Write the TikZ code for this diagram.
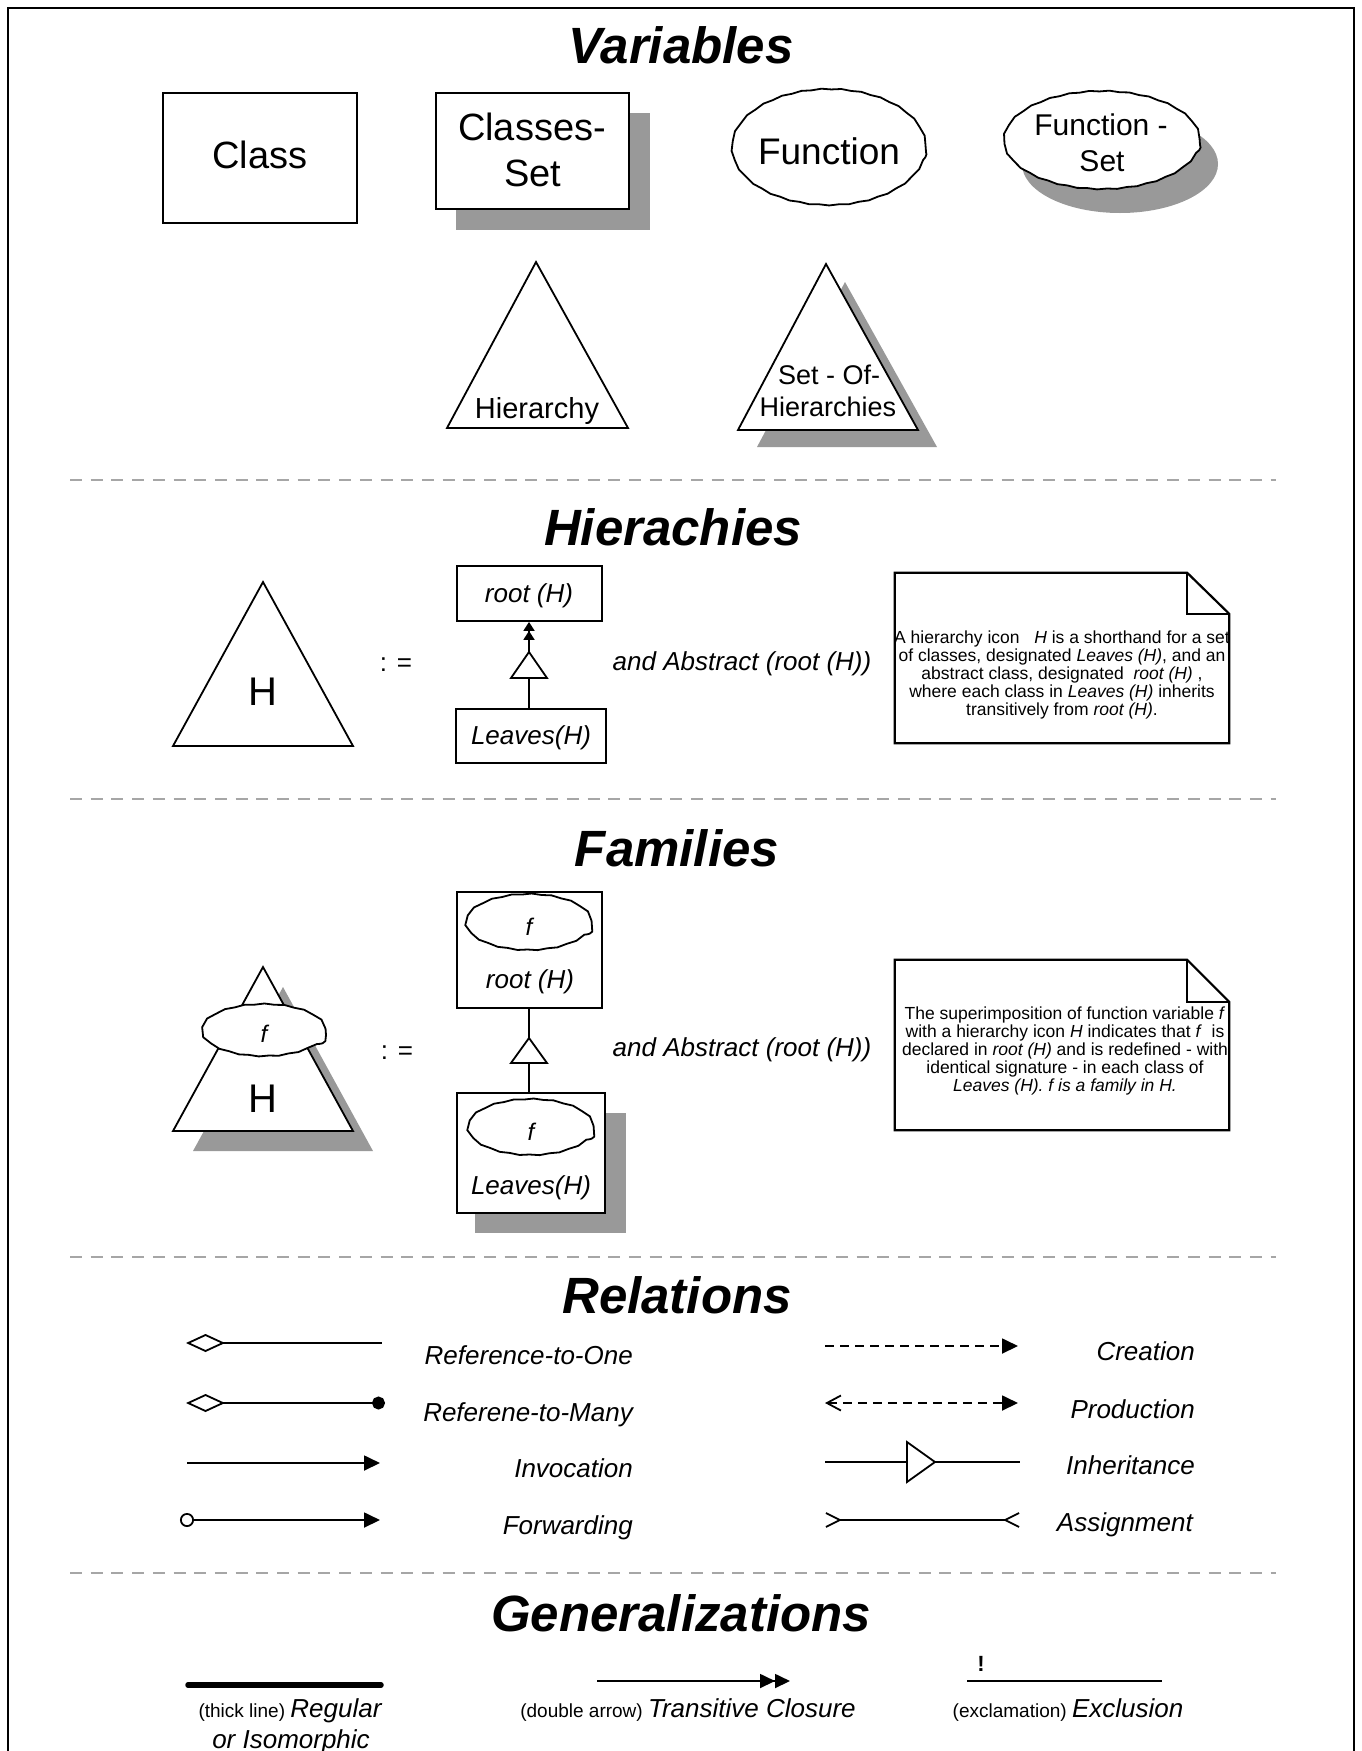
\documentclass[tikz,border=0pt]{standalone}
\usepackage{fontspec}
\setmainfont{Liberation Sans}
\usetikzlibrary{arrows.meta,calc,shapes.geometric,decorations.pathmorphing}
\newcommand\fsz[1]{\fontsize{#1}{#1}\selectfont}
\tikzset{
  pen/.style={line width=1.8pt},
  notepen/.style={line width=2.2pt, line join=miter},
  box/.style={pen, draw, fill=white, rectangle, inner sep=0pt},
  shadowbox/.style={fill=black!40, draw=none, rectangle, inner sep=0pt},
  wavy/.style={pen, draw, fill=white, ellipse, inner sep=0pt, decorate,
    decoration={snake, amplitude=0.45pt, segment length=20pt}},
  shadowoval/.style={fill=black!40, draw=none, ellipse, inner sep=0pt},
  heading/.style={font=\fsz{51}\bfseries\itshape, anchor=base, inner sep=0pt},
  lbl/.style={anchor=base, inner sep=0pt},
  rel/.style={font=\fsz{26}\itshape, anchor=base east, inner sep=0pt},
  notetext/.style={font=\fontsize{17.5}{18}\selectfont, align=center, inner sep=0pt},
  notebox/.style={inner sep=0pt, minimum width=334pt, minimum height=170pt},
  separator/.style={line width=2pt, black!35, dash pattern=on 12pt off 8.7pt},
  dashedline/.style={pen, dash pattern=on 9pt off 6pt},
  solidhead/.style={-{Triangle[length=16pt,width=15pt]}},
}
\begin{document}
\begin{tikzpicture}[x=1pt,y=-1pt]
\useasboundingbox (0,0) rectangle (1361,1751);
\clip (0,0) rectangle (1361,1751);
% frame
\draw[line width=2pt] (8,1770) |- (1354,8) -- (1354,1770);

% ---------------- Variables
\node[heading] (tvar) at (681,63) {Variables};
\node[box, minimum width=194pt, minimum height=130pt] (class) at (260,158) {};
\node[lbl, font=\fsz{38}] (classtxt) at (260,168) {Class};
\node[shadowbox, minimum width=194pt, minimum height=117pt] (csetsh) at (552.5,171.5) {};
\node[box, minimum width=193pt, minimum height=116pt] (cset) at (532.5,151) {};
\node[lbl, font=\fsz{38}] (csettxta) at (532,140) {Classes-};
\node[lbl, font=\fsz{38}] (csettxtb) at (533,186) {Set};
\node[wavy, minimum width=194pt, minimum height=116pt] (func) at (829,152) {};
\node[lbl, font=\fsz{37}] (functxt) at (829,164) {Function};
\node[shadowoval, minimum width=196pt, minimum height=98pt] (fsetsh) at (1120,164) {};
\node[wavy, minimum width=196pt, minimum height=98pt] (fset) at (1102,145) {};
\node[lbl, font=\fsz{30}] (fsettxta) at (1101,135) {Function -};
\node[lbl, font=\fsz{30}] (fsettxtb) at (1102,171) {Set};
\draw[pen, fill=white] (536,262) -- (628,428) -- (447,428) -- cycle;
\node[lbl, font=\fsz{29}] (hiertxt) at (537,418) {Hierarchy};
\fill[black!40] (845,282) -- (937,447) -- (757,447) -- cycle;
\draw[pen, fill=white] (826,264) -- (918,430) -- (738,430) -- cycle;
\node[lbl, font=\fsz{27}] (sohtxta) at (829,384) {Set - Of-};
\node[lbl, font=\fsz{27}] (sohtxtb) at (828,416) {Hierarchies};
\draw[separator] (70,480) -- (1276,480);

% ---------------- Hierarchies
\node[heading] (thier) at (673,545) {Hierachies};
\draw[pen, fill=white] (263,582) -- (353,746) -- (173,746) -- cycle;
\node[lbl, font=\fsz{40}] (htxt1) at (263,705) {H};
\node[lbl, font=\fsz{26}] (def1) at (396,671) {: =};
\node[box, minimum width=145pt, minimum height=55pt] (root1) at (529.5,593.5) {};
\node[lbl, font=\fsz{26}\itshape] (root1txt) at (529,602) {root (H)};
\node[box, minimum width=150pt, minimum height=54pt] (leaf1) at (531,736) {};
\node[lbl, font=\fsz{26}\itshape] (leaf1txt) at (531,744) {Leaves(H)};
\coordinate (i1apex) at (529,652);
\coordinate (i1base) at (529,678);
\draw[pen, fill=white] (i1apex) -- (547,678) -- (511,678) -- cycle;
\draw[pen] (i1base |- leaf1.north) -- (i1base);
\draw[pen, -{Triangle[length=9pt,width=11pt]Triangle[length=9pt,width=11pt]}] (i1apex) -- (i1apex |- root1.south);
\node[lbl, font=\fsz{26}\itshape] (abs1) at (742,670) {and Abstract (root (H))};
\node[notebox] (note1) at (1062,658) {};
\draw[notepen] (note1.north west) -- ([xshift=-42pt]note1.north east) -- ([yshift=-41pt]note1.north east)
  -- (note1.south east) -- (note1.south west) -- cycle;
\draw[notepen] ([xshift=-42pt]note1.north east) |- ([yshift=-41pt]note1.north east);
\node[notetext] (note1txt) at (1062,675) {A hierarchy icon \ \ \textit{H} is a shorthand for a set\\
  of classes, designated \textit{Leaves (H)}, and an\\
  abstract class, designated \ \textit{root (H)} ,\\
  where each class in \textit{Leaves (H)} inherits\\
  transitively from \textit{root (H)}.};
\draw[separator] (70,799) -- (1276,799);

% ---------------- Families
\node[heading] (tfam) at (677,866) {Families};
\fill[black!40] (283,987) -- (373,1151) -- (193,1151) -- cycle;
\draw[pen, fill=white] (263,967) -- (353,1131) -- (173,1131) -- cycle;
\node[wavy, minimum width=124pt, minimum height=52pt] (famf) at (264,1035) {};
\node[lbl, font=\fsz{24}\itshape] (famftxt) at (264,1042) {f};
\node[lbl, font=\fsz{40}] (htxt2) at (263,1112) {H};
\node[lbl, font=\fsz{26}] (def2) at (397,1059) {: =};
\node[box, minimum width=145pt, minimum height=116pt] (root2) at (529.5,950) {};
\node[wavy, minimum width=126pt, minimum height=56pt] (root2f) at (529,927) {};
\node[lbl, font=\fsz{24}\itshape] (root2ftxt) at (529,935) {f};
\node[lbl, font=\fsz{26}\itshape] (root2txt) at (530,988) {root (H)};
\node[shadowbox, minimum width=151pt, minimum height=120pt] (leaf2sh) at (550.5,1173) {};
\node[box, minimum width=148pt, minimum height=120pt] (leaf2) at (531,1153) {};
\node[wavy, minimum width=126pt, minimum height=56pt] (leaf2f) at (531,1132) {};
\node[lbl, font=\fsz{24}\itshape] (leaf2ftxt) at (531,1140) {f};
\node[lbl, font=\fsz{26}\itshape] (leaf2txt) at (531,1194) {Leaves(H)};
\coordinate (i2apex) at (529,1038);
\coordinate (i2base) at (529,1063);
\draw[pen] (root2.south -| i2apex) -- (i2apex);
\draw[pen, fill=white] (i2apex) -- (547,1063) -- (511,1063) -- cycle;
\draw[pen] (i2base) -- (i2base |- leaf2.north);
\node[lbl, font=\fsz{26}\itshape] (abs2) at (742,1056) {and Abstract (root (H))};
\node[notebox] (note2) at (1062,1045) {};
\draw[notepen] (note2.north west) -- ([xshift=-42pt]note2.north east) -- ([yshift=-42pt]note2.north east)
  -- (note2.south east) -- (note2.south west) -- cycle;
\draw[notepen] ([xshift=-42pt]note2.north east) |- ([yshift=-42pt]note2.north east);
\node[notetext] (note2txt) at (1065,1051) {The superimposition of function variable \textit{f}\\
  with a hierarchy icon \textit{H} indicates that \textit{f} \ is\\
  declared in \textit{root (H)} and is redefined - with\\
  identical signature - in each class of\\
  \textit{Leaves (H). f is a family in H.}};
\draw[separator] (70,1257) -- (1276,1257);

% ---------------- Relations
\node[heading] (trel) at (677,1313) {Relations};
\coordinate (ra1) at (186,1343); \coordinate (rb1) at (382,1343);
\coordinate (ra2) at (186,1403); \coordinate (rb2) at (385,1403);
\coordinate (ra3) at (187,1463); \coordinate (rb3) at (380,1463);
\coordinate (ra4) at (180,1520); \coordinate (rb4) at (380,1520);
\draw[pen, {Diamond[open,length=39pt,width=18pt]}-] (ra1) -- (rb1);
\draw[pen, {Diamond[open,length=39pt,width=18pt]}-{Circle[length=13pt,width=13pt]}] (ra2) -- (rb2);
\draw[pen, solidhead] (ra3) -- (rb3);
\draw[pen, {Circle[open,length=14pt,width=14pt]}-{Triangle[length=16pt,width=15pt]}] (ra4) -- (rb4);
\node[rel] (lref1) at (633,1364) {Reference-to-One};
\node[rel] (lrefm) at (633,1421) {Referene-to-Many};
\node[rel] (linv) at (633,1477) {Invocation};
\node[rel] (lfwd) at (633,1534) {Forwarding};

\coordinate (sa1) at (825,1346); \coordinate (sb1) at (1018,1346);
\coordinate (sa2) at (825,1403); \coordinate (sb2) at (1018,1403);
\coordinate (sa3) at (825,1462); \coordinate (sb3) at (1020,1462);
\coordinate (sa4) at (825,1520); \coordinate (sb4) at (1020,1520);
\draw[dashedline, solidhead] (sa1) -- (sb1);
\draw[dashedline, {Straight Barb[length=14pt,width=15pt]}-{Triangle[length=16pt,width=15pt]}] (sa2) -- (sb2);
\coordinate (ihl) at (907,1462); \coordinate (ihr) at (935,1462);
\draw[pen] (sa3) -- (ihl);
\draw[pen, fill=white] (907,1442) -- (ihr) -- (907,1482) -- cycle;
\draw[pen] (ihr) -- (sb3);
\draw[pen, {Straight Barb[reversed,length=14pt,width=14pt]}-{Straight Barb[reversed,length=14pt,width=14pt]}] (sa4) -- (sb4);
\node[rel] (lcre) at (1195,1360) {Creation};
\node[rel] (lpro) at (1195,1418) {Production};
\node[rel] (linh) at (1195,1474) {Inheritance};
\node[rel] (lasg) at (1193,1531) {Assignment};
\draw[separator] (70,1573) -- (1276,1573);

% ---------------- Generalizations
\node[heading] (tgen) at (681,1631) {Generalizations};
\coordinate (ga1) at (188,1685); \coordinate (gb1) at (381,1685);
\coordinate (ga2) at (597,1681); \coordinate (gb2) at (790,1681);
\coordinate (ga3) at (967,1681); \coordinate (gb3) at (1162,1681);
\draw[line width=5.5pt, line cap=round] (ga1) -- (gb1);
\draw[pen, -{Triangle[length=15pt,width=14pt]Triangle[length=15pt,width=14pt]}] (ga2) -- (gb2);
\draw[pen] (ga3) -- (gb3);
\node[lbl, font=\fsz{22}\bfseries] (excl) at (981,1671) {!};
\node[lbl] (greg) at (290,1717) {\fsz{19}(thick line) \fsz{26}\itshape Regular};
\node[lbl, font=\fsz{26}\itshape] (giso) at (291,1748) {or Isomorphic};
\node[lbl] (gtc) at (688,1717) {\fsz{19}(double arrow) \fsz{26}\itshape Transitive Closure};
\node[lbl] (gexc) at (1068,1717) {\fsz{19}(exclamation) \fsz{26}\itshape Exclusion};
\end{tikzpicture}
\end{document}
